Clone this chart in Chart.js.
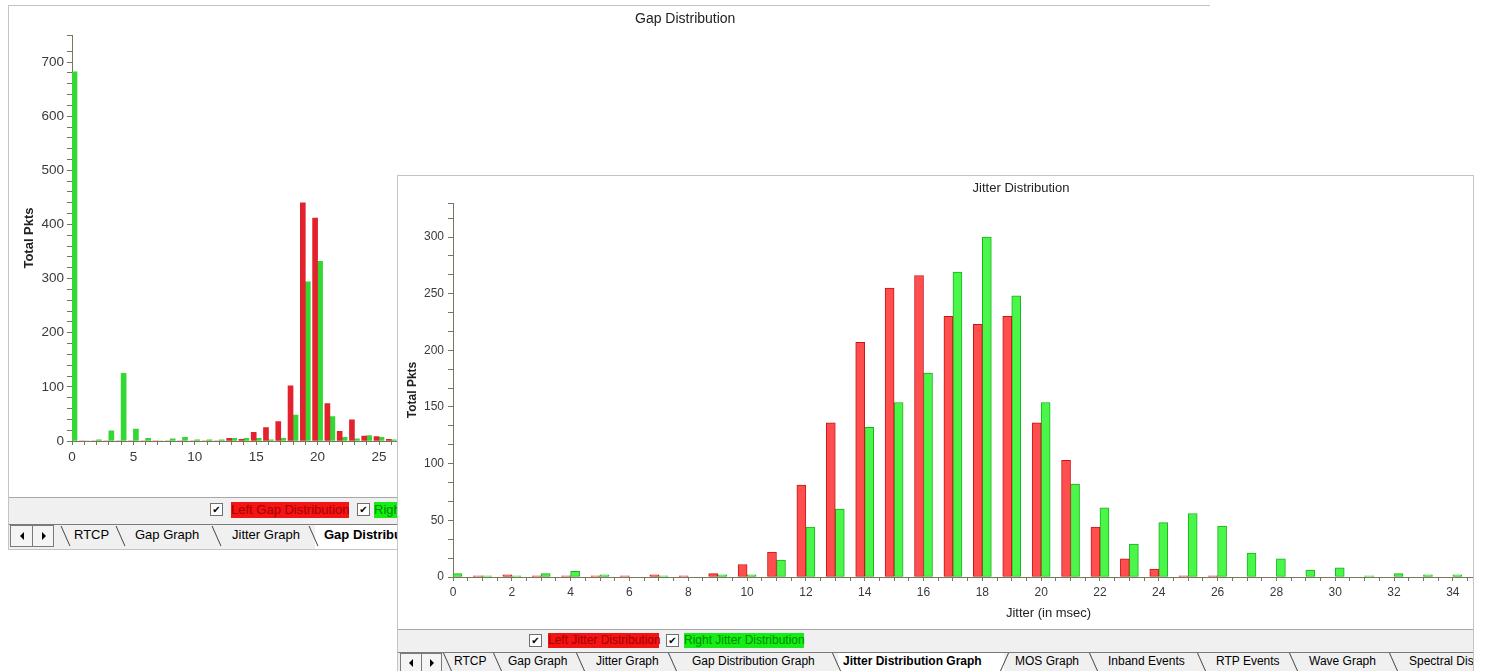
<!DOCTYPE html>
<html>
<head>
<meta charset="utf-8">
<script src="https://cdn.jsdelivr.net/npm/chart.js@4.4.1/dist/chart.umd.min.js"></script>
<style>
body { margin:0; width:1488px; height:671px; overflow:hidden; background:#fff; position:relative; font-family:"Liberation Sans", Arial, sans-serif; color:#000; }
.win { position:absolute; background:#fff; overflow:hidden; }
#gapWin { left:8px; top:5px; width:1201px; height:543px; border-top:1px solid #c4c4c4; border-left:1px solid #c4c4c4; border-bottom:1px solid #c4c4c4; }
#jitWin { left:397px; top:175px; width:1075px; height:504px; border:1px solid #c4c4c4; }
canvas { position:absolute; left:0; top:0; }
.strip { position:absolute; left:0; width:100%; background:#f0f0f0; }
.legend { border-top:1px solid #a8a8a8; box-sizing:border-box; }
.cb { position:absolute; width:11px; height:11px; border:1px solid #707070; background:#fff; font-size:10px; line-height:11px; text-align:center; font-family:"DejaVu Sans", sans-serif; }
.lbl { position:absolute; white-space:nowrap; }
.red { background:#f41414; color:#a40000; }
.green { background:#14ee14; color:#008a00; }
.tabline { position:absolute; left:0; right:0; top:2px; border-top:1px solid #7a7a7a; }
.tab { position:absolute; white-space:nowrap; }
.sel { font-weight:bold; }
.selbg { position:absolute; background:#fff; top:3px; bottom:0; }
.sep { position:absolute; width:0; border-left:1px solid #444; transform:skewX(24deg); }
.sep.back { transform:skewX(-24deg); }
.arrows { position:absolute; border:1px solid #7a7a7a; background:#f4f4f4; }
.arrows div { position:absolute; top:0; bottom:0; width:50%; }
.arrows div + div { left:50%; border-left:1px solid #7a7a7a; }
.tri { position:absolute; top:50%; left:50%; width:0; height:0; border-top:4px solid transparent; border-bottom:4px solid transparent; margin-top:-4px; }
.tri.l { border-right:4px solid #000; margin-left:-2px; }
.tri.r { border-left:4px solid #000; margin-left:-2px; }
</style>
</head>
<body>

<div class="win" id="gapWin">
  <canvas id="gapChart" width="1368" height="491"></canvas>
  <div class="strip legend" style="top:491px;height:25px;font-size:13px;">
    <div class="cb" style="left:201px;top:5px;">✔</div>
    <div class="lbl red" style="left:222px;top:4px;height:16px;line-height:16px;width:118px;">Left Gap Distribution</div>
    <div class="cb" style="left:348px;top:5px;">✔</div>
    <div class="lbl green" style="left:365px;top:4px;height:16px;line-height:16px;">Right Gap Distribution</div>
  </div>
  <div class="strip" style="top:516px;height:27px;font-size:13px;">
    <div class="tabline"></div>
    <div class="selbg" style="left:306px;width:200px;"></div>
    <div class="arrows" style="left:1px;top:3px;width:42px;height:20px;"><div><span class="tri l"></span></div><div><span class="tri r"></span></div></div>
    <div class="sep" style="left:56px;top:4px;height:20px;"></div>
    <div class="tab" style="left:65px;top:5px;">RTCP</div>
    <div class="sep" style="left:111px;top:4px;height:20px;"></div>
    <div class="tab" style="left:126px;top:5px;">Gap Graph</div>
    <div class="sep" style="left:207px;top:4px;height:20px;"></div>
    <div class="tab" style="left:223px;top:5px;">Jitter Graph</div>
    <div class="sep" style="left:304px;top:4px;height:20px;"></div>
    <div class="tab sel" style="left:315px;top:5px;">Gap Distribution Graph</div>
  </div>
</div>

<div class="win" id="jitWin">
  <canvas id="jitterChart" width="1254" height="453"></canvas>
  <div class="strip legend" style="top:453px;height:21px;font-size:12px;">
    <div class="cb" style="left:131px;top:4px;">✔</div>
    <div class="lbl red" style="left:150px;top:3px;height:15px;line-height:15px;width:111px;">Left Jitter Distribution</div>
    <div class="cb" style="left:268px;top:4px;">✔</div>
    <div class="lbl green" style="left:286px;top:3px;height:15px;line-height:15px;width:120px;">Right Jitter Distribution</div>
  </div>
  <div class="strip" style="top:474px;height:30px;font-size:12px;">
    <div class="tabline"></div>
    <div class="selbg" style="left:440px;width:166px;"></div>
    <div class="arrows" style="left:2px;top:3px;width:40px;height:17px;"><div><span class="tri l"></span></div><div><span class="tri r"></span></div></div>
    <div class="sep" style="left:49px;top:3px;height:18px;"></div>
    <div class="tab" style="left:56px;top:4px;">RTCP</div>
    <div class="sep" style="left:99px;top:3px;height:18px;"></div>
    <div class="tab" style="left:110px;top:4px;">Gap Graph</div>
    <div class="sep" style="left:182px;top:3px;height:18px;"></div>
    <div class="tab" style="left:198px;top:4px;">Jitter Graph</div>
    <div class="sep" style="left:274px;top:3px;height:18px;"></div>
    <div class="tab" style="left:294px;top:4px;">Gap Distribution Graph</div>
    <div class="sep" style="left:438px;top:3px;height:18px;"></div>
    <div class="tab sel" style="left:445px;top:4px;">Jitter Distribution Graph</div>
    <div class="sep back" style="left:606px;top:3px;height:18px;"></div>
    <div class="tab" style="left:617px;top:4px;">MOS Graph</div>
    <div class="sep" style="left:695px;top:3px;height:18px;"></div>
    <div class="tab" style="left:710px;top:4px;">Inband Events</div>
    <div class="sep" style="left:803px;top:3px;height:18px;"></div>
    <div class="tab" style="left:818px;top:4px;">RTP Events</div>
    <div class="sep" style="left:895px;top:3px;height:18px;"></div>
    <div class="tab" style="left:911px;top:4px;">Wave Graph</div>
    <div class="sep" style="left:995px;top:3px;height:18px;"></div>
    <div class="tab" style="left:1011px;top:4px;">Spectral Distribution Graph</div>
  </div>
</div>

<script>
// gap distribution (back window), bins 0..26 visible
const gapBins = [0,1,2,3,4,5,6,7,8,9,10,11,12,13,14,15,16,17,18,19,20,21,22,23,24,25,26];
const leftGap = [0,0,0,0,0,0,0,0,0,0,0,0,0,5,3,16,25,36,102,440,412,69,18,39,9,8,3];
const rightGap = [682,0,2,19,125,22,5,0,4,7,2,2,2,5,5,5,2,5,48,294,332,45,7,4,10,7,2];

// jitter distribution (front window), bins 0..34
const jitterBins = [0,1,2,3,4,5,6,7,8,9,10,11,12,13,14,15,16,17,18,19,20,21,22,23,24,25,26,27,28,29,30,31,32,33,34];
const leftJitter = [0,1,2,1,1,1,1,2,1,3,11,22,81,136,207,255,266,230,223,230,136,103,44,16,7,1,1,0,0,0,0,0,0,0,0];
const rightJitter = [3,1,1,3,5,2,0,1,0,2,2,15,44,60,132,154,180,269,300,248,154,82,61,29,48,56,45,21,16,6,8,1,3,2,2];

const axisColor = '#77775c';
const tickColor = '#3a3a3a';
const fam = '"Liberation Sans", Arial, sans-serif';

Chart.defaults.font.family = fam;
Chart.defaults.animation = false;

function pts(bins, vals) {
    return bins.map(function(b, i) { return {x: b, y: vals[i]}; });
}

function axis(opts) {
    return {
        type: 'linear',
        min: opts.min,
        max: opts.max,
        offset: false,
        border: {color: axisColor, width: 1},
        grid: {drawOnChartArea: false, offset: false, color: axisColor, tickLength: opts.tickLength, tickWidth: 1},
        ticks: {
            stepSize: opts.step,
            autoSkip: false,
            maxRotation: 0,
            padding: opts.padding,
            color: tickColor,
            font: {size: opts.fontSize},
            callback: function(v) {
                const r = Math.round(v);
                return (Math.abs(v - r) < 1e-6 && r % opts.every === 0) ? r : '';
            }
        },
        title: opts.title,
        afterFit: opts.afterFit
    };
}

new Chart(document.getElementById('gapChart'), {
    type: 'bar',
    data: {
        datasets: [{
            label: 'Left Gap Distribution',
            data: pts(gapBins, leftGap),
            backgroundColor: 'rgb(226, 34, 44)',
            borderWidth: 0,
            barThickness: 5
        },
        {
            label: 'Right Gap Distribution',
            data: pts(gapBins, rightGap),
            backgroundColor: 'rgb(52, 216, 52)',
            borderWidth: 0,
            barThickness: 5
        }]
    },
    options: {
        responsive: false,
        layout: {padding: {left: 0, right: 15.6, top: 0, bottom: 0}},
        plugins: {
            legend: {display: false},
            tooltip: {enabled: false},
            title: {display: true, text: 'Gap Distribution', color: '#222', font: {size: 14, weight: 'normal'}, padding: {top: 4.6, bottom: 7.6}}
        },
        scales: {
            x: axis({min: 0, max: 105, step: 1, every: 5, tickLength: 4, padding: 4, fontSize: 13.5,
                title: {display: false},
                afterFit: function(s) { s.height = 56; }}),
            y: axis({min: 0, max: 750, step: 20, every: 100, tickLength: 5, padding: 3, fontSize: 13.5,
                title: {display: true, text: 'Total Pkts', color: '#222', font: {size: 13, weight: 'bold'}, padding: {top: 13, bottom: 0}},
                afterFit: function(s) { s.width = 63; }})
        }
    }
});

new Chart(document.getElementById('jitterChart'), {
    type: 'bar',
    data: {
        datasets: [{
            label: 'Left Jitter Distribution',
            data: pts(jitterBins, leftJitter),
            backgroundColor: 'rgb(255, 78, 78)',
            borderColor: 'rgb(200, 22, 22)',
            borderWidth: 1,
            borderSkipped: false,
            barThickness: 9
        },
        {
            label: 'Right Jitter Distribution',
            data: pts(jitterBins, rightJitter),
            backgroundColor: 'rgb(74, 246, 74)',
            borderColor: 'rgb(28, 176, 28)',
            borderWidth: 1,
            borderSkipped: false,
            barThickness: 9
        }]
    },
    options: {
        responsive: false,
        layout: {padding: {left: 0, right: 8, top: 0, bottom: 0}},
        plugins: {
            legend: {display: false},
            tooltip: {enabled: false},
            title: {display: true, text: 'Jitter Distribution', color: '#222', font: {size: 13, weight: 'normal'}, padding: {top: 4.2, bottom: 7.2}}
        },
        scales: {
            x: axis({min: 0, max: 40.5, step: 0.5, every: 2, tickLength: 4, padding: 4, fontSize: 12,
                title: {display: true, text: 'Jitter (in msec)', color: '#222', font: {size: 13}, padding: {top: 0, bottom: 8.2}},
                afterFit: function(s) { s.height = 52; }}),
            y: axis({min: 0, max: 330, step: 50 / 3, every: 50, tickLength: 5, padding: 4, fontSize: 12,
                title: {display: true, text: 'Total Pkts', color: '#222', font: {size: 12, weight: 'bold'}, padding: {top: 7.8, bottom: 0}},
                afterFit: function(s) { s.width = 55; }})
        }
    }
});
</script>
</body>
</html>
